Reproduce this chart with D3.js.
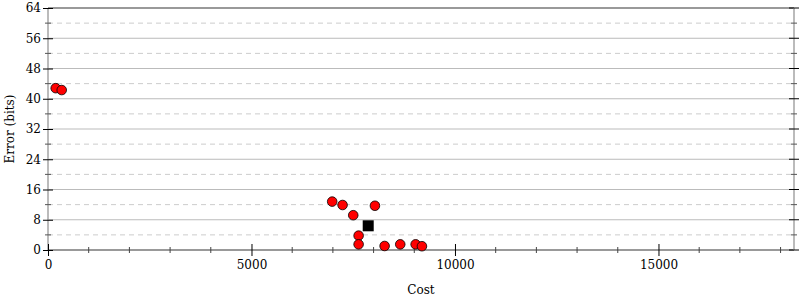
<!DOCTYPE html>
<html lang="en">
<head>
<meta charset="UTF-8">
<title>Cost vs Error</title>
<script src="https://d3js.org/d3.v7.min.js"></script>
<style>
  body { margin: 0; background: #fff; }
  svg text { font-family: "DejaVu Serif", "Liberation Serif", serif; font-size: 12px; fill: #000; }
</style>
</head>
<body>
<div id="chart"></div>
<script>
// candidate points (cost, error in bits)
const costs  = [189, 337, 6983, 7238, 7500, 8033, 7632, 7632, 8271, 8655, 9033, 9188];
const errors = [42.8, 42.3, 12.8, 11.9, 9.2, 11.7, 3.8, 1.5, 1.06, 1.5, 1.5, 1.0];
// the chosen (initial) program
const bestCost = [7868];
const bestError = [6.4];

const xTicks = [0, 5000, 10000, 15000];
const yTicks = [0, 8, 16, 24, 32, 40, 48, 56, 64];
const yMinor = [4, 12, 20, 28, 36, 44, 52, 60];

const W = 800, H = 300;
const margin = {top: 8, right: 6, bottom: 50, left: 48};
const width = W - margin.left - margin.right,
      height = H - margin.top - margin.bottom;

const svg = d3.select("#chart").append("svg")
    .attr("width", W).attr("height", H)
    .attr("font-family", "DejaVu Serif");
const g = svg.append("g")
    .attr("transform", `translate(${margin.left},${margin.top})`);

const x = d3.scaleLinear().domain([0, 18330]).range([0, width]);
const y = d3.scaleLinear().domain([0, 64]).range([height, 0]);

// grid
g.selectAll(".grid-major").data(yTicks.filter(d => d > 0 && d < 64)).join("line")
    .attr("x1", 0).attr("x2", width)
    .attr("y1", d => y(d)).attr("y2", d => y(d))
    .attr("stroke", "#bbb").attr("stroke-width", 1);
g.selectAll(".grid-minor").data(yMinor).join("line")
    .attr("x1", 0).attr("x2", width)
    .attr("y1", d => y(d)).attr("y2", d => y(d))
    .attr("stroke", "#ccc").attr("stroke-width", 1)
    .attr("stroke-dasharray", "5,4");

// frame lines
g.append("line").attr("x1", 0).attr("x2", width).attr("y1", 0).attr("y2", 0)
    .attr("stroke", "#999").attr("stroke-width", 2);
g.append("line").attr("x1", 0).attr("x2", width).attr("y1", height).attr("y2", height)
    .attr("stroke", "#999").attr("stroke-width", 2);
g.append("line").attr("x1", 0).attr("x2", 0).attr("y1", 0).attr("y2", height)
    .attr("stroke", "#bbb").attr("stroke-width", 2);
g.append("line").attr("x1", width).attr("x2", width).attr("y1", 0).attr("y2", height)
    .attr("stroke", "#bbb").attr("stroke-width", 2);

// y axis left
const yAxis = g.append("g")
    .call(d3.axisLeft(y).tickValues(yTicks).tickSize(5).tickPadding(3));
yAxis.attr("font-family", null).attr("font-size", null);
yAxis.select(".domain").remove();
yAxis.selectAll(".tick line").attr("x2", 5).attr("x1", -5).attr("stroke", "#000");
yAxis.selectAll(".tick text").attr("x", -7);
g.selectAll(".ymin-l").data(yMinor).join("line")
    .attr("x1", -3).attr("x2", 3).attr("y1", d => y(d)).attr("y2", d => y(d))
    .attr("stroke", "#555");

// y ticks right
g.selectAll(".ymaj-r").data(yTicks).join("line")
    .attr("x1", width - 5).attr("x2", width + 5).attr("y1", d => y(d)).attr("y2", d => y(d))
    .attr("stroke", "#000");
g.selectAll(".ymin-r").data(yMinor).join("line")
    .attr("x1", width - 3).attr("x2", width + 3).attr("y1", d => y(d)).attr("y2", d => y(d))
    .attr("stroke", "#555");

// x axis
const xAxis = g.append("g")
    .attr("transform", `translate(0,${height})`)
    .call(d3.axisBottom(x).tickValues(xTicks).tickFormat(d3.format("d")).tickSize(6).tickPadding(4));
xAxis.attr("font-family", null).attr("font-size", null);
xAxis.select(".domain").remove();
xAxis.selectAll(".tick line").attr("y1", -6).attr("y2", 6).attr("stroke", "#000");
g.selectAll(".xmin").data(d3.range(1000, 18001, 1000).filter(d => d % 5000 !== 0)).join("line")
    .attr("x1", d => x(d)).attr("x2", d => x(d))
    .attr("y1", height - 3).attr("y2", height + 3)
    .attr("stroke", "#444");

// labels
svg.append("text")
    .attr("x", 421).attr("y", 294)
    .attr("text-anchor", "middle").text("Cost");
svg.append("text")
    .attr("transform", `translate(14,${margin.top + height / 2}) rotate(-90)`)
    .attr("text-anchor", "middle").text("Error (bits)");

// points
const pts = costs.map((c, i) => ({c: c, e: errors[i]}));
g.selectAll(".pt").data(pts).join("circle")
    .attr("cx", d => x(d.c)).attr("cy", d => y(d.e)).attr("r", 4.8)
    .attr("fill", "red").attr("stroke", "#000").attr("stroke-width", 0.8);

g.selectAll(".best").data(bestCost.map((c, i) => ({c: c, e: bestError[i]}))).join("rect")
    .attr("x", d => x(d.c) - 5.5).attr("y", d => y(d.e) - 5.5)
    .attr("width", 11).attr("height", 11)
    .attr("fill", "#000");
</script>
</body>
</html>
